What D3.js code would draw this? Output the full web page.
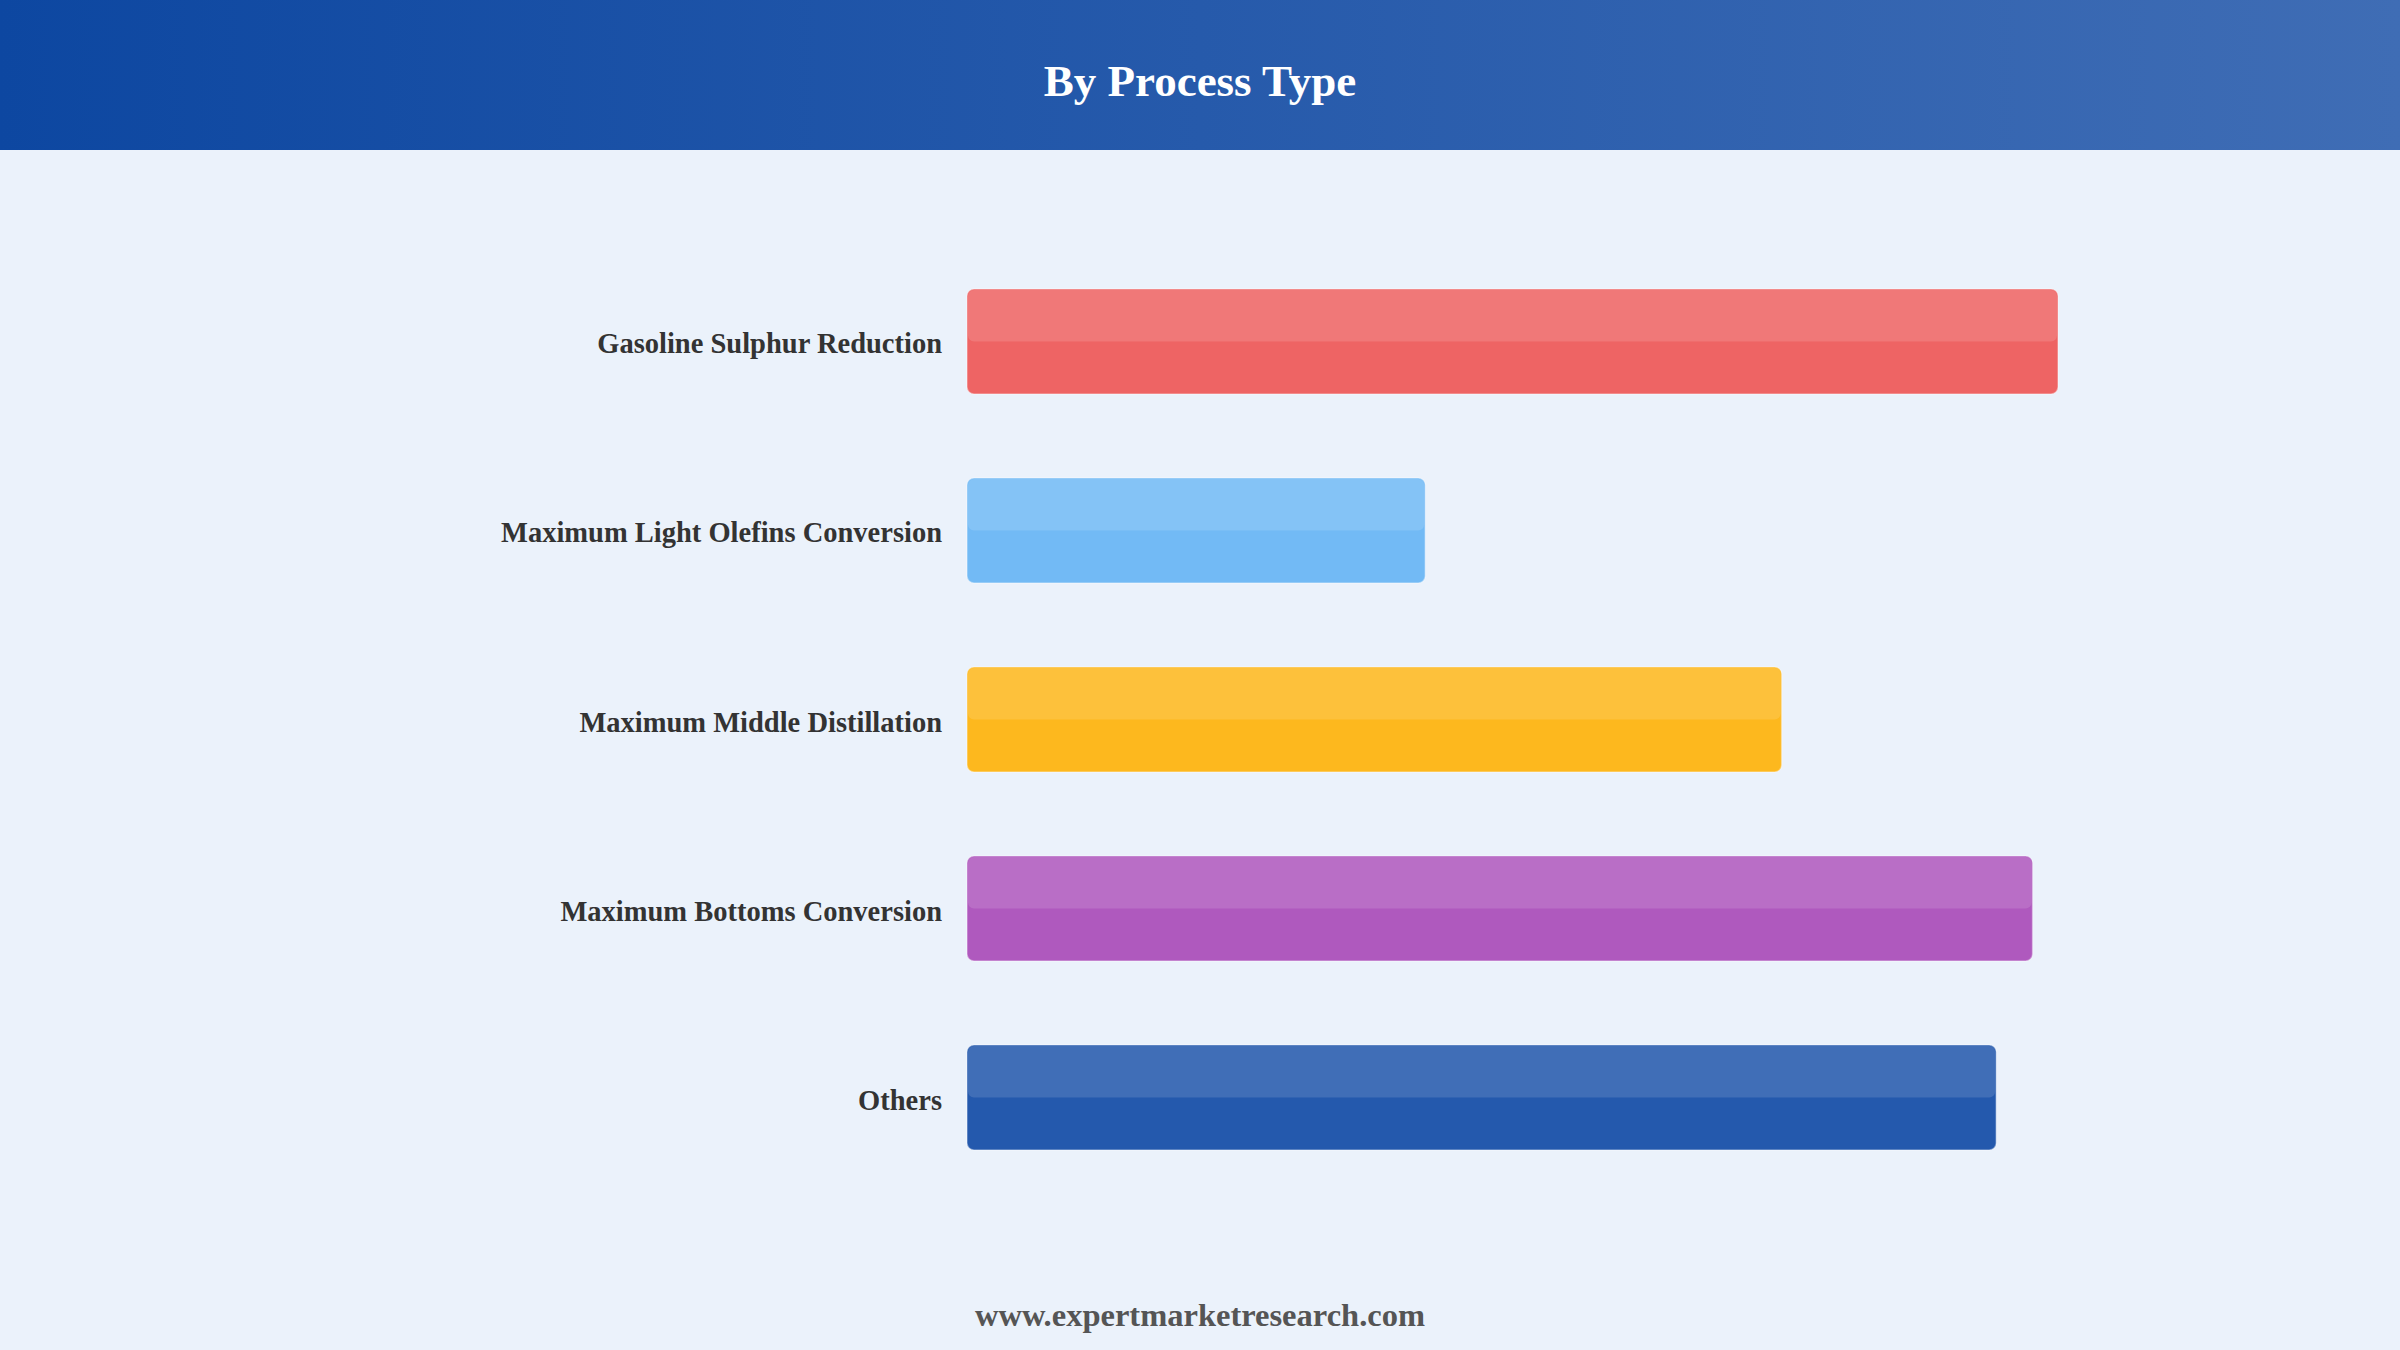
<!DOCTYPE html>
<html>
<head>
<meta charset="utf-8">
<script src="https://cdn.jsdelivr.net/npm/d3@7"></script>
<style>
  body { margin: 0; background: #ebf2fb; }
  svg { display: block; }
</style>
</head>
<body>
<svg id="chart" width="2400" height="1350"></svg>
<script>
const categories = [
  "Gasoline Sulphur Reduction",
  "Maximum Light Olefins Conversion",
  "Maximum Middle Distillation",
  "Maximum Bottoms Conversion",
  "Others"
];
const values = [30, 12.6, 22.4, 29.3, 28.3];
const colors = ["#ee6464", "#72baf5", "#fdb81e", "#af59be", "#2459ad"];

const svg = d3.select("#chart");
const width = +svg.attr("width");
const height = +svg.attr("height");

// header band with gradient
const defs = svg.append("defs");
const grad = defs.append("linearGradient").attr("id", "hdr")
  .attr("x1", "0%").attr("x2", "100%").attr("y1", "0%").attr("y2", "0%");
grad.append("stop").attr("offset", "0%").attr("stop-color", "#0d47a1");
grad.append("stop").attr("offset", "100%").attr("stop-color", "#3f6db5");

svg.append("rect").attr("width", width).attr("height", height).attr("fill", "#ebf2fb");
svg.append("rect").attr("width", width).attr("height", 150).attr("fill", "url(#hdr)");

svg.append("text")
  .attr("x", width / 2).attr("y", 96)
  .attr("text-anchor", "middle")
  .style("font-family", "'Liberation Serif', 'Times New Roman', serif")
  .style("font-weight", "bold")
  .style("font-size", "45px")
  .style("fill", "#fff")
  .text("By Process Type");

const left = 967;
const x = d3.scaleLinear().domain([0, 30]).range([0, 1091]);
const y = d3.scaleBand().domain(categories).range([205, 1234]).padding(0.444);

const chart = svg.append("g");

const bars = chart.selectAll("g.bar")
  .data(categories.map((c, i) => ({ name: c, value: values[i], color: colors[i] })))
  .enter().append("g").attr("class", "bar");

// main bar
bars.append("rect")
  .attr("x", left)
  .attr("y", d => y(d.name))
  .attr("width", d => x(d.value))
  .attr("height", y.bandwidth())
  .attr("rx", 7)
  .attr("fill", d => d.color)
  .attr("stroke", "rgba(255,255,255,0.35)")
  .attr("stroke-width", 1.5);

// lighter top half
bars.append("rect")
  .attr("x", left + 1)
  .attr("y", d => y(d.name) + 1)
  .attr("width", d => x(d.value) - 2)
  .attr("height", y.bandwidth() / 2 - 1)
  .attr("rx", 6)
  .attr("fill", "#fff")
  .attr("fill-opacity", 0.13);

// labels
bars.append("text")
  .attr("x", left - 25)
  .attr("y", d => y(d.name) + y.bandwidth() / 2 + 12)
  .attr("text-anchor", "end")
  .style("font-family", "'Liberation Serif', 'Times New Roman', serif")
  .style("font-weight", "bold")
  .style("font-size", "28.5px")
  .style("fill", "#333")
  .text(d => d.name);

svg.append("text")
  .attr("x", width / 2).attr("y", 1326)
  .attr("text-anchor", "middle")
  .style("font-family", "'Liberation Serif', 'Times New Roman', serif")
  .style("font-weight", "bold")
  .style("font-size", "32.5px")
  .style("fill", "#555")
  .text("www.expertmarketresearch.com");
</script>
</body>
</html>
